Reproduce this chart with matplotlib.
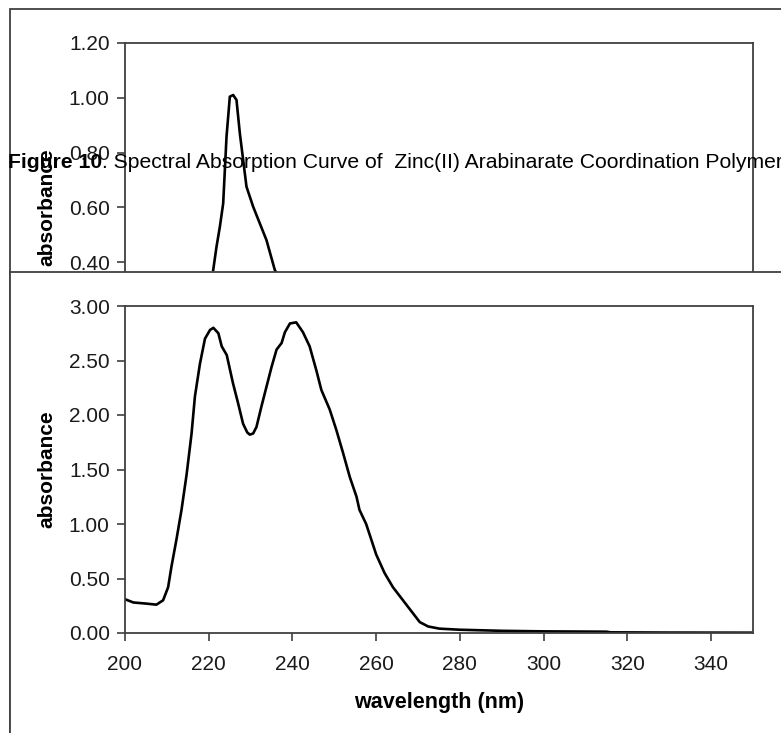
import matplotlib.pyplot as plt
from matplotlib.patches import Rectangle
from matplotlib.ticker import FormatStrFormatter

plt.rcParams['font.family'] = ['Liberation Sans', 'DejaVu Sans']

# top panel (partly hidden behind the second chart)
top_wl = [221.07, 221.86, 222.66, 223.45, 224.25, 225.04, 225.83, 226.63,
          227.43, 229.02, 230.61, 233.79, 235.78, 238.0, 240.0]
top_abs = [0.371, 0.456, 0.529, 0.614, 0.858, 1.004, 1.010, 0.992,
           0.870, 0.675, 0.602, 0.480, 0.371, 0.31, 0.27]

# bottom panel
wl = [200, 202, 205, 207.5, 209.1, 210.3, 211.1, 212.3, 213.5, 214.7, 215.9,
      216.7, 217.9, 219.1, 220.3, 221.1, 222.3, 223.1, 224.3, 225.8, 227.0,
      228.2, 229.2, 229.8, 230.6, 231.4, 232.6, 233.8, 235.0, 236.2, 237.4,
      238.2, 239.4, 240.9, 242.5, 244.1, 245.7, 246.9, 248.9, 250.5, 252.1,
      253.7, 255.3, 256.0, 257.6, 260.0, 262.0, 264.0, 266.4, 268.8, 270.4,
      272.4, 275.1, 279.9, 290, 300, 315, 316, 330, 350]
absorb = [0.31, 0.28, 0.27, 0.26, 0.30, 0.42, 0.61, 0.86, 1.13, 1.45, 1.83,
          2.17, 2.47, 2.70, 2.78, 2.80, 2.75, 2.63, 2.55, 2.29, 2.11,
          1.92, 1.84, 1.82, 1.83, 1.89, 2.08, 2.26, 2.44, 2.60, 2.66,
          2.76, 2.84, 2.85, 2.76, 2.63, 2.41, 2.23, 2.05, 1.86, 1.65,
          1.43, 1.25, 1.13, 1.00, 0.72, 0.55, 0.42, 0.30, 0.18, 0.10,
          0.06, 0.04, 0.03, 0.02, 0.015, 0.012, 0.006, 0.004, 0.003]

x_ticks = [200, 220, 240, 260, 280, 300, 320, 340]
top_yticks = [0.4, 0.6, 0.8, 1.0, 1.2]   # lower ticks are hidden by the second chart
bot_yticks = [0.0, 0.5, 1.0, 1.5, 2.0, 2.5, 3.0]

caption_bold = 'Figure 10'
caption_rest = '. Spectral Absorption Curve of  Zinc(II) Arabinarate Coordination Polymer'

W, H = 781, 733
fig = plt.figure(figsize=(W / 100, H / 100), dpi=100)
frame_c = '#404040'


def px_box(x0, y0, x1, y1):
    return [x0 / W, 1 - y1 / H, (x1 - x0) / W, (y1 - y0) / H]


def style_axes(ax, yticks, ylim):
    ax.set_xlim(200, 350)
    ax.set_ylim(*ylim)
    ax.set_xticks(x_ticks)
    ax.set_yticks(yticks)
    ax.yaxis.set_major_formatter(FormatStrFormatter('%.2f'))
    ax.tick_params(direction='out', length=6, width=1.2, color=frame_c,
                   labelsize=15, labelcolor='#1a1a1a', pad=5)
    ax.tick_params(axis='x', pad=10)
    for s in ax.spines.values():
        s.set_color(frame_c)
        s.set_linewidth(1.3)
    ax.set_ylabel('absorbance', fontsize=15, fontweight='bold')
    ax.yaxis.set_label_coords(-0.110, 0.5)


# outer frame of first chart
fig.patches.append(Rectangle((10 / W, -1), 2, 1 - 9 / H + 1, transform=fig.transFigure,
                             facecolor='white', edgecolor=frame_c, linewidth=1.3, zorder=-1))

ax1 = fig.add_axes(px_box(125, 43, 753, 371.5))
ax1.set_zorder(0)
ax1.plot(top_wl, top_abs, color='black', linewidth=1.9)
style_axes(ax1, top_yticks, (0, 1.2))
ax1.tick_params(axis='x', labelbottom=False)

# second chart panel covering the lower part of the first one
fig.patches.append(Rectangle((10 / W, -1), 2, 1 - 271.5 / H + 1, transform=fig.transFigure,
                             facecolor='white', edgecolor=frame_c, linewidth=1.3, zorder=1))

ax2 = fig.add_axes(px_box(125, 306, 753, 633))
ax2.set_zorder(2)
ax2.plot(wl, absorb, color='black', linewidth=1.9)
style_axes(ax2, bot_yticks, (0, 3.0))
ax2.set_xlabel('wavelength (nm)', fontsize=15.5, fontweight='bold')
ax2.xaxis.set_label_coords(0.5, -0.180)

# caption, bold figure number followed by normal text
t1 = fig.text(8 / W, 1 - 168 / H, caption_bold, fontsize=15.2, fontweight='bold',
              va='baseline', ha='left', zorder=5)
renderer = fig.canvas.get_renderer()
bb = t1.get_window_extent(renderer)
fig.text(bb.x1 / W, 1 - 168 / H, caption_rest, fontsize=15.2,
         va='baseline', ha='left', zorder=5)

fig.savefig('out.png', dpi=100)
